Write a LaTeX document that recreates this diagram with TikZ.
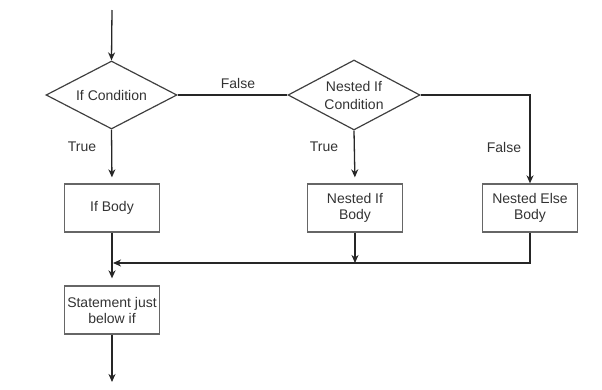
\documentclass[tikz,border=0pt]{standalone}
\usepackage{fontspec}
\setmainfont{Liberation Sans}
\usetikzlibrary{shapes.geometric,arrows.meta}
\begin{document}
\begin{tikzpicture}[x=1pt,y=-1pt,
  font=\fontsize{14}{16}\selectfont,
  lin/.style={draw=black!85, line width=1.3pt},
  arr/.style={lin, -{Stealth[length=8pt,width=7pt,inset=2.5pt]}},
  dec/.style={draw=black!75, line width=1.2pt, shape=diamond, aspect=1.9,
    inner sep=0pt, align=center, text=black!80},
  box/.style={draw=black!60, line width=1.3pt, minimum width=95pt,
    minimum height=48pt, inner sep=0pt, align=center, text=black!80},
  lbl/.style={text=black!80, inner sep=0pt}]
\useasboundingbox (0,0) rectangle (602,389);
\node[dec, minimum width=131pt, minimum height=68pt] (c1) at (111.5,95) {If Condition};
\node[dec, minimum width=132pt, minimum height=70pt] (c2) at (354,95) {Nested If\\[2pt]Condition};
\node[box] (ib) at (112,208) {If Body};
\node[box] (nib) at (355,208) {Nested If\\Body};
\node[box] (neb) at (530,208) {Nested Else\\Body};
\node[box] (st) at (112,310) {Statement just\\below if};
\coordinate (top) at (112,10);
\coordinate (bot) at (112,382);
\coordinate (m) at (112,263);
\node[lbl] (f1) at (238,83) {False};
\node[lbl] (t1) at (82,147) {True};
\node[lbl] (t2) at (324,147) {True};
\node[lbl] (f2) at (504,147) {False};
\draw[arr] (top) -- (c1.north);
\draw[lin] (c1.east) -- (c2.west);
\draw[arr, shorten >=6pt] (c1.south) -- (ib.north);
\draw[arr, shorten >=6pt] (c2.south) -- (nib.north);
\draw[arr] (c2.east) -| (neb.north);
\draw[arr, shorten >=7pt] (ib.south) -- (st.north);
\draw[arr] (nib.south) -- (nib.south |- m);
\draw[arr, shorten >=1pt] (neb.south) |- (m);
\draw[arr] (st.south) -- (bot);
\end{tikzpicture}
\end{document}
